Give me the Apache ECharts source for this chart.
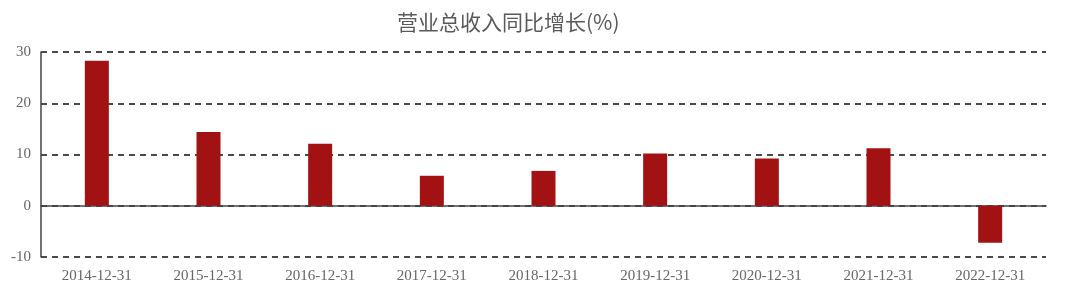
<!DOCTYPE html>
<html><head><meta charset="utf-8">
<script src="https://cdn.jsdelivr.net/npm/echarts@6/dist/echarts.min.js"></script>
<style>html,body{margin:0;padding:0;background:#fff}#c{width:1080px;height:294px}</style>
</head><body><div id="c"></div>
<script>
const title = '营业总收入同比增长(%)';
const categories = ['2014-12-31','2015-12-31','2016-12-31','2017-12-31','2018-12-31','2019-12-31','2020-12-31','2021-12-31','2022-12-31'];
const growth = [28.3, 14.4, 12.1, 5.85, 6.8, 10.2, 9.2, 11.2, -7.2];
const yTicks = { min: -10, max: 30, interval: 10 };

const chart = echarts.init(document.getElementById('c'));
chart.setOption({
  animation: false,
  backgroundColor: '#fff',
  title: {
    text: title, left: 392, top: 7,
    textStyle: { fontFamily: 'Noto Sans CJK SC', fontSize: 21, fontWeight: 'normal', color: '#5a5a5a' }
  },
  grid: { left: 41, right: 34, top: 52, bottom: 37 },
  xAxis: {
    type: 'category', data: categories,
    axisLine: { onZero: true, lineStyle: { color: '#444', width: 1.5 } },
    axisTick: { show: false },
    axisLabel: { margin: 12, color: '#666', fontFamily: 'Liberation Serif', fontSize: 15, interval: 0 }
  },
  yAxis: {
    type: 'value', min: yTicks.min, max: yTicks.max, interval: yTicks.interval,
    axisLine: { show: true, lineStyle: { color: '#444', width: 1.5 } },
    axisTick: { show: false },
    axisLabel: { margin: 10, color: '#666', fontFamily: 'Liberation Serif', fontSize: 15 },
    splitLine: { show: true, lineStyle: { color: '#4a4a4a', width: 1.8, type: [6, 5] } }
  },
  series: [{
    type: 'bar', data: growth, barWidth: 24,
    itemStyle: { color: '#a31212' }
  }]
});
</script></body></html>
